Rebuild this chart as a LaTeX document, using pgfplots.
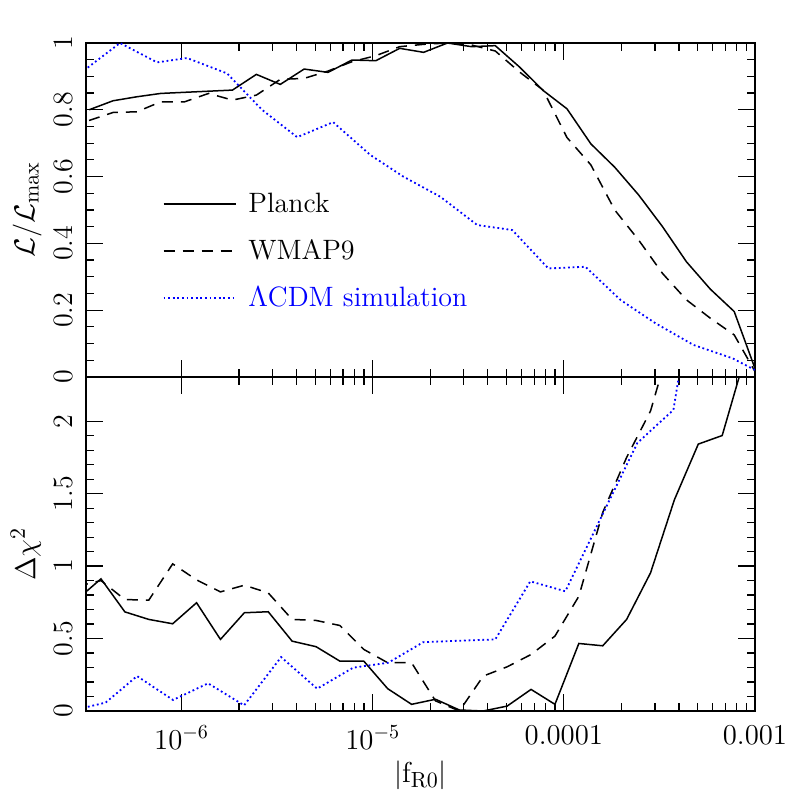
\documentclass[border=0pt]{standalone}
\usepackage{pgfplots}
\pgfplotsset{compat=1.18}
\usepackage{pgfplotstable}
\definecolor{simblue}{RGB}{0,0,255}

% top panel: log10|fR0| and L/Lmax
\pgfplotstableread{
lx v
-6.4836 0.800
-6.3586 0.827
-6.2336 0.839
-6.1086 0.849
-5.7336 0.859
-5.6086 0.906
-5.4836 0.876
-5.3586 0.922
-5.2336 0.912
-5.1086 0.949
-4.9836 0.947
-4.8586 0.984
-4.7336 0.972
-4.6086 1.000
-4.4836 0.989
-4.3586 0.992
-4.2336 0.929
-4.1086 0.858
-3.9836 0.803
-3.8586 0.698
-3.7336 0.628
-3.6086 0.545
-3.4836 0.450
-3.3586 0.345
-3.2336 0.263
-3.1086 0.196
-2.9836 0.000
}\planckL
\pgfplotstableread{
lx v
-6.4836 0.768
-6.3586 0.792
-6.2336 0.794
-6.1086 0.824
-5.9836 0.824
-5.8586 0.849
-5.7336 0.829
-5.6086 0.844
-5.4836 0.891
-5.3586 0.894
-5.2336 0.916
-5.1086 0.944
-4.9836 0.962
-4.8586 0.989
-4.7336 0.996
-4.6086 1.000
-4.4836 0.994
-4.3586 0.976
-4.2336 0.914
-4.1086 0.859
-3.9836 0.717
-3.8586 0.635
-3.7336 0.500
-3.6086 0.410
-3.4836 0.310
-3.3586 0.231
-3.2336 0.176
-3.1086 0.126
-2.9836 0.000
}\wmapL
\pgfplotstableread{
lx v
-6.510 0.918
-6.322 1.000
-6.128 0.942
-5.971 0.955
-5.762 0.909
-5.579 0.800
-5.395 0.718
-5.207 0.763
-5.013 0.665
-4.840 0.600
-4.647 0.540
-4.453 0.455
-4.270 0.440
-4.081 0.325
-3.887 0.330
-3.704 0.231
-3.521 0.161
-3.322 0.096
-3.118 0.056
-2.929 0.000
}\simL

% bottom panel: log10|fR0| and Delta chi^2
\pgfplotstableread{
lx v
-6.5465 0.770
-6.4215 0.912
-6.2965 0.684
-6.1715 0.632
-6.0465 0.602
-5.9215 0.747
-5.7965 0.494
-5.6715 0.678
-5.5465 0.685
-5.4215 0.482
-5.2965 0.444
-5.1715 0.344
-5.0465 0.344
-4.9215 0.154
-4.7965 0.046
-4.6715 0.081
-4.5465 0.007
-4.4215 0.000
-4.2965 0.034
-4.1715 0.149
-4.0465 0.046
-3.9215 0.466
-3.7965 0.450
-3.6715 0.632
-3.5465 0.953
-3.4215 1.458
-3.2965 1.842
-3.1715 1.901
-3.0465 2.470
}\planckC
\pgfplotstableread{
lx v
-6.5465 0.860
-6.4215 0.900
-6.2965 0.769
-6.1715 0.765
-6.0465 1.015
-5.9215 0.905
-5.7965 0.822
-5.6715 0.868
-5.5465 0.815
-5.4215 0.632
-5.2965 0.625
-5.1715 0.590
-5.0465 0.425
-4.9215 0.333
-4.7965 0.333
-4.6715 0.070
-4.5465 0.000
-4.4215 0.241
-4.2965 0.305
-4.1715 0.390
-4.0465 0.517
-3.9215 0.792
-3.7965 1.370
-3.6715 1.750
-3.5465 2.070
-3.4215 2.640
}\wmapC
\pgfplotstableread{
lx v
-6.5838 0.000
-6.3969 0.058
-6.2330 0.241
-6.0445 0.076
-5.8613 0.191
-5.6728 0.039
-5.4791 0.372
-5.2906 0.154
-5.1021 0.299
-4.9188 0.333
-4.7356 0.475
-4.5471 0.485
-4.3586 0.494
-4.1754 0.895
-3.9921 0.826
-3.8037 1.340
-3.6152 1.850
-3.4267 2.078
-3.2382 3.600
}\simC

\begin{document}
\begin{tikzpicture}
\useasboundingbox (-43pt,-43pt) rectangle (355.5pt,355.5pt);

\begin{axis}[
  xmode=log,
  scale only axis,
  width=334.5pt, height=167pt,
  xmin=3.16228e-7, xmax=1e-3,
  xtick={1e-6,1e-5,1e-4,1e-3},
  xtick pos=both, ytick pos=both,
  major tick length=8.5pt, minor tick length=4pt,
  tick style={black, line width=0.6pt},
  axis line style={line width=0.7pt},
  ticklabel style={font=\fontsize{14}{16}\selectfont},
  yticklabel style={rotate=90, anchor=south},
  yticklabel shift=3pt,
  xticklabel shift=4pt,
  label style={font=\fontsize{15}{17}\selectfont},
  at={(0pt,0pt)}, anchor=south west,
  ymin=0, ymax=2.305,
  ytick={0,0.5,1,1.5,2},
  yticklabels={0,0.5,1,1.5,2},
  minor y tick num=4,
  xticklabels={$10^{-6}$,$10^{-5}$,$0.0001$,$0.001$},
  xlabel={$|\mathrm{f}_{\mathrm{R0}}|$},
  xlabel style={at={(axis description cs:0.5,0)}, anchor=center, yshift=-32pt},
  ylabel={$\Delta\chi^2$},
  ylabel style={at={(axis description cs:-0.09,0.47)}, anchor=center},
]
\addplot[black, line width=0.75pt] table[x expr={10^(\thisrow{lx})}, y=v] {\planckC};
\addplot[black, line width=0.75pt, dash pattern=on 5.5pt off 4pt] table[x expr={10^(\thisrow{lx})}, y=v] {\wmapC};
\addplot[simblue, line width=0.9pt, dash pattern=on 0.9pt off 1.4pt] table[x expr={10^(\thisrow{lx})}, y=v] {\simC};
\end{axis}

\begin{axis}[
  xmode=log,
  scale only axis,
  width=334.5pt, height=167pt,
  xmin=3.16228e-7, xmax=1e-3,
  xtick={1e-6,1e-5,1e-4,1e-3},
  xtick pos=both, ytick pos=both,
  major tick length=8.5pt, minor tick length=4pt,
  tick style={black, line width=0.6pt},
  axis line style={line width=0.7pt},
  ticklabel style={font=\fontsize{14}{16}\selectfont},
  yticklabel style={rotate=90, anchor=south},
  yticklabel shift=3pt,
  label style={font=\fontsize{15}{17}\selectfont},
  at={(0pt,167pt)}, anchor=south west,
  ymin=0, ymax=1,
  ytick={0,0.2,0.4,0.6,0.8,1},
  yticklabels={0,0.2,0.4,0.6,0.8,1},
  minor y tick num=3,
  xticklabels={},
  ylabel={$\mathcal{L}/\mathcal{L}_{\mathrm{max}}$},
  ylabel style={at={(axis description cs:-0.088,0.5)}, anchor=center},
  legend style={draw=none, fill=none, at={(0.105,0.57)}, anchor=north west,
    font=\fontsize{14}{16}\selectfont, row sep=10pt,
    nodes={inner sep=1pt}},
  legend cell align=left,
  legend image code/.code={\draw[#1] (0pt,0pt) -- (36pt,0pt);},
]
\addplot[black, line width=0.75pt] table[x expr={10^(\thisrow{lx})}, y=v] {\planckL};
\addlegendentry{\hspace{5pt}Planck}
\addplot[black, line width=0.75pt, dash pattern=on 5.5pt off 4pt] table[x expr={10^(\thisrow{lx})}, y=v] {\wmapL};
\addlegendentry{\hspace{5pt}WMAP9}
\addplot[simblue, line width=0.9pt, dash pattern=on 0.9pt off 1.4pt] table[x expr={10^(\thisrow{lx})}, y=v] {\simL};
\addlegendentry{\hspace{5pt}\textcolor{simblue}{$\Lambda$CDM simulation}}
\end{axis}
\end{tikzpicture}
\end{document}
